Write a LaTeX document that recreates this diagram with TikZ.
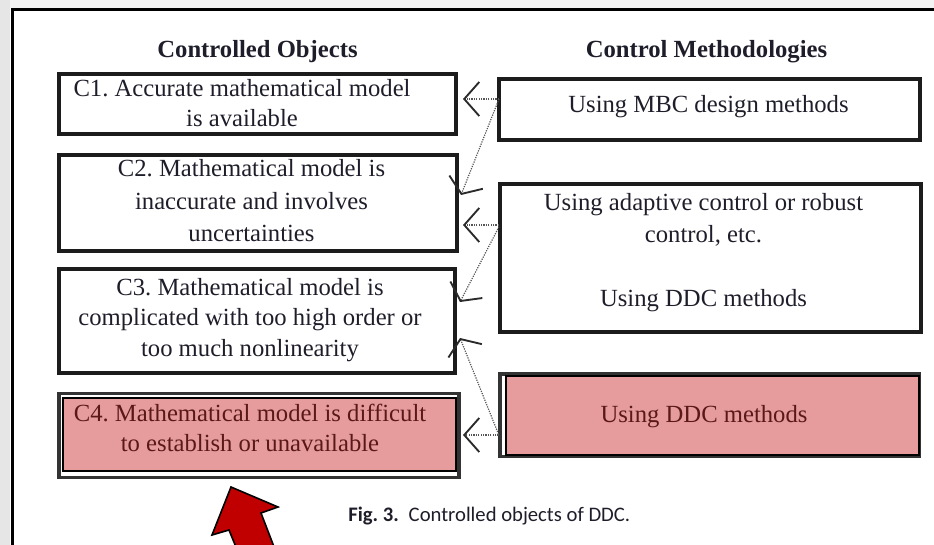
\documentclass[tikz,border=0pt]{standalone}
\usepackage{fontspec}
\setmainfont{Liberation Serif}
\newfontfamily\capfont{Carlito}
\usetikzlibrary{arrows.meta,fit}
\definecolor{txt}{HTML}{1E1E2A}
\definecolor{redtxt}{HTML}{5A1818}
\definecolor{pinkfill}{HTML}{E69C9C}
\definecolor{boxline}{HTML}{1C1C1C}
\definecolor{dotcol}{HTML}{555555}
\definecolor{arrcol}{HTML}{2A2A2A}
\definecolor{redarrow}{HTML}{C00000}
\definecolor{stripgray}{HTML}{E6E6E6}
\definecolor{topgray}{HTML}{F3F3F3}
\frenchspacing
\newcommand{\txtrows}[2]{{\fontsize{18.5}{#1}\selectfont\frenchspacing\begin{tabular}[t]{@{}c@{}}#2\end{tabular}}}
\begin{document}
\begin{tikzpicture}[x=0.75pt,y=-0.75pt,
  boxthick/.style={draw=boxline,line width=3pt,inner sep=0pt,outer sep=0pt},
  frameout/.style={draw=boxline!90!white,line width=2.4pt,fill=white,inner sep=0pt,outer sep=0pt},
  pinkbox/.style={draw=black,line width=1.5pt,fill=pinkfill,inner sep=0pt,outer sep=0pt},
  lbl/.style={anchor=base,inner sep=0pt,text=txt},
  redlbl/.style={anchor=base,inner sep=0pt,text=redtxt},
  head/.style={anchor=base,inner sep=0pt,text=txt,font=\fontsize{18.5}{22}\selectfont\bfseries},
  conn/.style={draw=dotcol,line width=0.9pt,dash pattern=on 0.9pt off 0.9pt,
    -{Straight Barb[length=11.25pt,width=25.5pt,line width=0.5pt 1,color=arrcol]}},
  connd/.style={draw=dotcol,line width=0.9pt,dash pattern=on 0.9pt off 0.9pt,
    -{Straight Barb[length=9.5pt,width=27pt,line width=0.5pt 1,color=arrcol]}},
  bigarrow/.style={draw=black,line width=1.2pt,fill=redarrow,line join=miter}]
\useasboundingbox (0,0) rectangle (934,545);
\begin{scope}
\clip (0,0) rectangle (934,545);
% page frame
\fill[topgray] (10,0) rectangle (934,8);
\fill[stripgray] (0,0) rectangle (10,545);
\draw[black,line width=2.25pt] (12.2,550) -- (12.2,10) -- (940,10);

% headings
\node[head] (h1) at (257.5,57.5) {Controlled Objects};
\node[head] (h2) at (706.5,57.5) {Control Methodologies};

% left boxes
\node[boxthick, fit={(59,74) (456,134.5)}] (c1) {};
\node[boxthick, fit={(59,155) (456.5,251)}] (c2) {};
\node[boxthick, fit={(59,269) (455,373)}] (c3) {};
\node[frameout, fit={(59,393.5) (459,477.5)}] (c4frame) {};
\node[pinkbox, fit={(63,397.5) (455.5,471)}] (c4) {};

% right boxes
\node[boxthick, fit={(499,79) (919.5,140.5)}] (m1) {};
\node[boxthick, fit={(500,184) (921,331.5)}] (m2) {};
\node[frameout, fit={(500,374) (919.5,456.5)}] (m3frame) {};
\node[pinkbox, fit={(506,375.5) (918.5,455)}] (m3) {};

% texts
\node[lbl] (t1) at (242,96.7) {\txtrows{22.5pt}{C1. Accurate mathematical model\\is available}};
\node[lbl] (t2) at (251.5,176.7) {\txtrows{24.4pt}{C2. Mathematical model is\\inaccurate and involves\\uncertainties}};
\node[lbl] (t3) at (250,295) {\txtrows{23.1pt}{C3. Mathematical model is\\complicated with too high order or\\too much nonlinearity}};
\node[redlbl] (t4) at (250,421.7) {\txtrows{22.7pt}{C4. Mathematical model is difficult\\to establish or unavailable}};
\node[lbl] (tm1) at (708.5,113) {\txtrows{22.5pt}{Using MBC design methods}};
\node[lbl] (tm2) at (703.5,210) {\txtrows{24.2pt}{Using adaptive control or robust\\control, etc.\\ \\Using DDC methods}};
\node[redlbl] (tm3) at (704,422.7) {\txtrows{22.5pt}{Using DDC methods}};

% connectors
\draw[conn] ([shift={(0,-10.75)}]m1.west) -- ([shift={(7,-5.25)}]c1.east);
\draw[connd] ([shift={(0,-10.75)}]m1.west) -- ([shift={(4.5,-8)}]c2.east);
\draw[conn] ([shift={(-1,-32.75)}]m2.west) -- ([shift={(6.5,22)}]c2.east);
\draw[connd] ([shift={(-1,-31)}]m2.west) -- ([shift={(5,-19)}]c3.east);
\draw[connd] ([shift={(-1.5,19)}]m3frame.west) -- ([shift={(5,17)}]c3.east);
\draw[conn] ([shift={(-1.5,19.75)}]m3frame.west) -- ([shift={(4,-0.5)}]c4frame.east);

% caption
\node[anchor=base west,inner sep=0pt,text=txt] (cap) at (348,521.7)
  {\capfont\fontsize{15.5}{18}\selectfont\textbf{Fig. 3.}\hspace{0.48em}Controlled objects of DDC.};

% red block arrow
\draw[bigarrow] (231,487) -- (278,507) -- (261,513) -- (276,552) -- (238,552) -- (229,530) -- (212,535) -- cycle;
\end{scope}
\end{tikzpicture}
\end{document}
